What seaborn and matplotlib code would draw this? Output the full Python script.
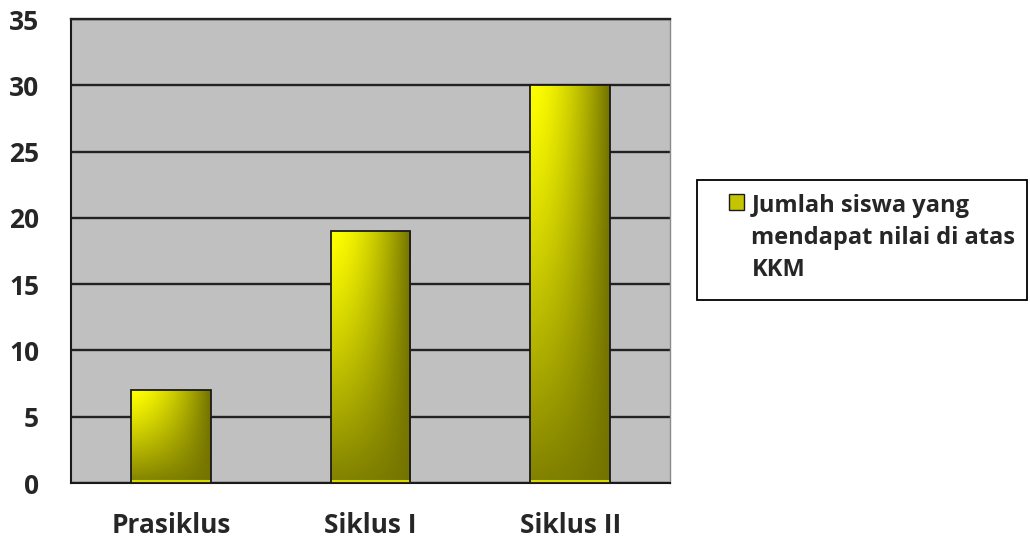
import numpy as np
import matplotlib
matplotlib.use('Agg')
import matplotlib.pyplot as plt
import seaborn as sns
from matplotlib.patches import Patch, Rectangle

categories = ['Prasiklus', 'Siklus I', 'Siklus II']
values = [7, 19, 30]
legend_label = 'Jumlah siswa yang\nmendapat nilai di atas\nKKM'
yticks = [0, 5, 10, 15, 20, 25, 30, 35]

sns.set_style('white')
plt.rcParams['font.family'] = ['Open Sans', 'DejaVu Sans']
plt.rcParams['font.weight'] = 'bold'

fig = plt.figure(figsize=(10.3, 5.38), dpi=100)
ax = fig.add_axes([71/1030, 55/538, 599/1030, 464/538])
ax.set_facecolor('#c0c0c0')

sns.barplot(x=categories, y=values, ax=ax, width=0.4, color='#ffff00',
            edgecolor='#1a1a1a', linewidth=1.3, zorder=3)

# gradient fill clipped to each bar: yellow top-left -> olive right/bottom
bright = np.array([1.0, 1.0, 0.0])
dark = np.array([0.45, 0.45, 0.0])
for bar in ax.patches:
    x0, y0 = bar.get_x(), bar.get_y()
    w, h = bar.get_width(), bar.get_height()
    npx_h = max(int(h / 35 * 464), 4)
    npx_w = 80
    u = np.linspace(0, 1, npx_w)[None, :]
    v = np.linspace(1, 0, npx_h)[:, None]  # 0 at top, 1 at bottom
    t = 1 - (1 - u ** 1.6) * (1 - 0.9 * v ** 1.2)
    img = bright[None, None, :] * (1 - t[..., None]) + dark[None, None, :] * t[..., None]
    img[:3, :, :] = np.array([0.85, 0.85, 0.0])  # thin highlight at the base
    im = ax.imshow(img[::-1], extent=[x0, x0 + w, y0, y0 + h], aspect='auto',
                   origin='upper', zorder=3.5, interpolation='bilinear')
    im.set_clip_path(bar)
    bar.set_facecolor('none')
    bar.set_zorder(4)

ax.set_xlim(-0.5, 2.5)
ax.set_ylim(0, 35)
ax.set_yticks(yticks)
ax.yaxis.grid(True, color='#222222', linewidth=1.7, zorder=1)
ax.set_axisbelow(True)

ax.set_xticks([-0.5, 0.5, 1.5, 2.5], minor=False)
ax.set_xticklabels([])
ax.set_xticks([0, 1, 2], minor=True)
ax.set_xticklabels(categories, minor=True, fontsize=19, fontweight='bold')
ax.tick_params(axis='x', which='minor', length=0, pad=21)
ax.tick_params(axis='x', which='major', length=8, width=1.3, color='#1a1a1a', direction='out')
ax.tick_params(axis='y', length=8, width=1.3, color='#1a1a1a', direction='out',
               labelsize=19, pad=15)
for lab in ax.get_yticklabels():
    lab.set_fontweight('bold')

for s in ['left', 'bottom']:
    ax.spines[s].set_color('#1a1a1a')
    ax.spines[s].set_linewidth(1.5)
ax.spines['top'].set_color('#222222')
ax.spines['top'].set_linewidth(1.7)
ax.spines['right'].set_color('#8a8a8a')
ax.spines['right'].set_linewidth(1.0)
ax.set_xlabel('')
ax.set_ylabel('')

# legend box
fig.patches.append(Rectangle((697/1030, 1 - 300/538), 330/1030, 120/538,
                             transform=fig.transFigure, facecolor='white',
                             edgecolor='black', linewidth=1.3, zorder=0))
handle = Patch(facecolor='#c4c400', edgecolor='#1a1a1a', linewidth=1)
leg = fig.legend([handle], [legend_label], loc='upper left',
                 bbox_to_anchor=(729/1030, 1 - 194/538), frameon=False,
                 handlelength=0.65, handleheight=0.65, handletextpad=0.3,
                 borderpad=0, borderaxespad=0,
                 prop={'weight': 'bold', 'size': 17})
leg.get_texts()[0].set_linespacing(1.45)
for col in leg._legend_handle_box.get_children():
    for row in col.get_children():
        row.align = 'top'

fig.savefig('out.png', dpi=100)
